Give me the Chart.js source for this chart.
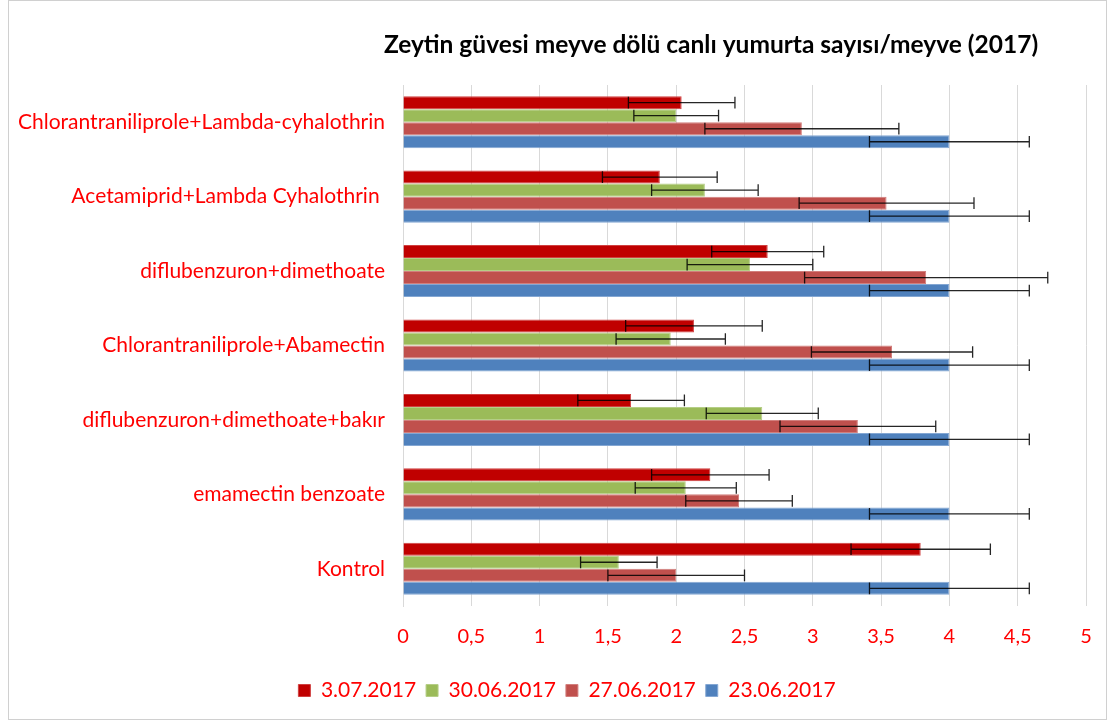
<!DOCTYPE html>
<html>
<head>
<meta charset="utf-8">
<script src="https://cdn.jsdelivr.net/npm/chart.js@4/dist/chart.umd.min.js"></script>
<style>
  html, body { margin: 0; padding: 0; background: #fff; }
  #wrap { position: absolute; left: 0; top: 0; width: 1116px; height: 728px; }
</style>
</head>
<body>
<div id="wrap"><canvas id="c" width="1116" height="728"></canvas></div>
<script>
const titleText = 'Zeytin güvesi meyve dölü canlı yumurta sayısı/meyve (2017)';
const categories = [
  'Chlorantraniliprole+Lambda-cyhalothrin',
  'Acetamiprid+Lambda Cyhalothrin ',
  'diflubenzuron+dimethoate',
  'Chlorantraniliprole+Abamectin',
  'diflubenzuron+dimethoate+bakır',
  'emamectin benzoate',
  'Kontrol'
];
const seriesNames = ['3.07.2017', '30.06.2017', '27.06.2017', '23.06.2017'];
const s0307 = [2.04, 1.88, 2.67, 2.13, 1.67, 2.25, 3.79];
const s3006 = [2.00, 2.21, 2.54, 1.96, 2.63, 2.07, 1.58];
const s2706 = [2.92, 3.54, 3.83, 3.58, 3.33, 2.46, 2.00];
const s2306 = [4.00, 4.00, 4.00, 4.00, 4.00, 4.00, 4.00];
const e0307 = [0.39, 0.42, 0.41, 0.50, 0.39, 0.43, 0.51];
const e3006 = [0.31, 0.39, 0.46, 0.40, 0.41, 0.37, 0.28];
const e2706 = [0.71, 0.64, 0.89, 0.59, 0.57, 0.39, 0.50];
const e2306 = [0.585, 0.585, 0.585, 0.585, 0.585, 0.585, 0.585];
const xTickLabels = ['0', '0,5', '1', '1,5', '2', '2,5', '3', '3,5', '4', '4,5', '5'];
const colors = ['#C00000', '#9BBB59', '#C0504D', '#4F81BD'];
const borderColors = ['#D04040', '#B5CE86', '#D27F7D', '#84A7D3'];

const errors = [e0307, e3006, e2706, e2306];

const frameAndTitle = {
  id: 'frameAndTitle',
  afterLayout(chart) {
    if (chart.legend) {
      chart.legend.left += 19;
      chart.legend.right += 19;
    }
  },
  beforeDraw(chart) {
    const ctx = chart.ctx;
    ctx.save();
    ctx.fillStyle = '#fff';
    ctx.fillRect(0, 0, chart.width, chart.height);
    ctx.strokeStyle = '#d0d0d0';
    ctx.lineWidth = 1;
    ctx.strokeRect(8.5, 0.5, 1098, 719);
    ctx.restore();
  },
  afterDraw(chart) {
    const ctx = chart.ctx;
    ctx.save();
    ctx.fillStyle = '#000';
    ctx.font = 'bold 24.5px Lato, "Open Sans", sans-serif';
    ctx.textAlign = 'center';
    ctx.textBaseline = 'middle';
    ctx.fillText(titleText, 711, 45);
    ctx.restore();
  }
};

const errorBars = {
  id: 'errorBars',
  afterDatasetsDraw(chart) {
    const ctx = chart.ctx;
    const xs = chart.scales.x;
    ctx.save();
    ctx.strokeStyle = 'rgba(0,0,0,0.85)';
    ctx.lineWidth = 1.3;
    chart.data.datasets.forEach((ds, di) => {
      const meta = chart.getDatasetMeta(di);
      meta.data.forEach((bar, i) => {
        const v = ds.data[i];
        const e = errors[di][i];
        const x1 = xs.getPixelForValue(v - e);
        const x2 = xs.getPixelForValue(v + e);
        const y = bar.y;
        const h = bar.height * 0.9;
        ctx.beginPath();
        ctx.moveTo(x1, y); ctx.lineTo(x2, y);
        ctx.moveTo(x1, y - h / 2); ctx.lineTo(x1, y + h / 2);
        ctx.moveTo(x2, y - h / 2); ctx.lineTo(x2, y + h / 2);
        ctx.stroke();
      });
    });
    ctx.restore();
  }
};

new Chart(document.getElementById('c'), {
  type: 'bar',
  data: {
    labels: categories,
    datasets: [s0307, s3006, s2706, s2306].map((d, i) => ({
      label: seriesNames[i],
      data: d,
      backgroundColor: colors[i],
      borderColor: borderColors[i],
      borderWidth: 1,
      categoryPercentage: 0.7,
      barPercentage: 1.0
    }))
  },
  options: {
    indexAxis: 'y',
    responsive: false,
    animation: false,
    layout: { padding: { top: 85, right: 30, bottom: 17, left: 10 } },
    scales: {
      x: {
        min: 0, max: 5,
        ticks: {
          stepSize: 0.5,
          color: '#FF0000',
          font: { family: 'Lato, "Open Sans", sans-serif', size: 20 },
          padding: 19,
          callback: (v, i) => xTickLabels[i]
        },
        grid: { color: '#d9d9d9', drawTicks: false },
        border: { display: false },
        afterFit: s => { s.height = 64; }
      },
      y: {
        ticks: {
          color: '#FF0000',
          font: { family: 'Lato, "Open Sans", sans-serif', size: 21 },
          padding: 18
        },
        grid: { display: false, drawTicks: false },
        border: { display: true, color: '#d9d9d9' },
        afterFit: s => { s.width = 393; }
      }
    },
    plugins: {
      legend: {
        position: 'bottom',
        labels: {
          color: '#FF0000',
          font: { family: 'Lato, "Open Sans", sans-serif', size: 21 },
          boxWidth: 12,
          boxHeight: 12,
          padding: 10
        }
      },
      title: { display: false },
      tooltip: { enabled: false }
    }
  },
  plugins: [frameAndTitle, errorBars]
});
</script>
</body>
</html>
